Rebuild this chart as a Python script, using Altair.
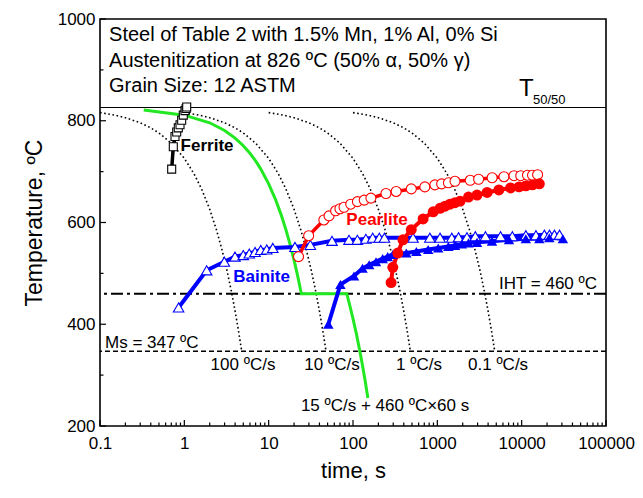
import altair as alt
import pandas as pd

FONT = "Liberation Sans"

# ---------------- data ----------------
# Ferrite start (open squares)
ferrite_t = [0.708, 0.740, 0.775, 0.812, 0.848, 0.889, 0.930, 0.972, 1.018, 1.050, 1.067]
ferrite_T = [705, 749, 769, 778, 786, 792, 801, 811, 820, 824, 827]

# Bainite start (open triangles)
bs_t = [0.855, 1.84, 2.98, 3.99, 5.0, 5.89, 6.89, 8.05, 9.48, 11.2, 20.5, 31.2, 56.4, 89.7,
        112.8, 142, 171, 205, 236, 515, 815, 1076, 1482, 1783, 2243, 2820, 3715, 5613, 7745,
        11200, 14760, 18570, 21330, 24450, 28100]
bs_T = [433, 506, 523, 533, 536, 539, 542, 546, 547, 550, 552, 556, 564, 566,
        566, 568, 570, 570, 570, 570, 570, 570, 570, 571, 571, 573, 573, 573, 573,
        575, 575, 576, 576, 576, 576]

# Bainite finish (filled triangles)
bf_t = [51, 70.9, 102.8, 129.7, 155.7, 187.5, 225, 258, 296.5, 428.6, 565, 778, 1024, 1352,
        1620, 1950, 2343, 2957, 4450, 7080, 11200, 16200, 21300, 30800]
bf_T = [400, 478, 495, 510, 517, 523, 529, 533, 537, 540, 543, 547, 550, 553,
        555, 558, 560, 561, 563, 566, 568, 568, 570, 568]

# Pearlite start (open circles)
ps_t = [22.6, 29.8, 45.1, 52, 62.2, 70, 78.2, 94, 112.8, 135.8, 163, 246, 325, 491, 711, 935,
        1124, 1352, 1620, 2455, 3086, 4465, 6166, 8110, 9750, 11720, 13450, 15450]
ps_T = [533, 574, 605, 613, 623, 627, 630, 636, 641, 644, 648, 657, 661, 666, 670, 674,
        676, 678, 681, 683, 685, 688, 690, 692, 692, 693, 693, 694]

# Pearlite finish (filled circles)
pf_t = [283, 296.5, 340, 391, 491, 678, 893, 1076, 1234, 1414, 1620, 1863, 2343, 2957, 3893,
        5370, 7390, 9310, 11200, 13450, 16200]
pf_T = [482, 512, 540, 566, 586, 607, 621, 628, 632, 636, 639, 642, 650, 654, 659,
        664, 668, 670, 672, 674, 676]

# Thermal path: 15 C/s + 460 C x 60 s
path_t = [0.33, 1, 2, 3, 4, 5, 6, 7, 8, 10, 12, 14, 16, 18, 20, 22, 24.4, 84.4, 90, 100,
          110, 120, 130, 140, 150]
path_T = [821, 811, 796, 781, 766, 751, 736, 721, 706, 676, 646, 616, 586, 556, 526, 496,
          460, 460, 442, 411, 380, 349, 318, 287, 255]

# Constant-rate cooling curves (dotted)
cool_T = [816, 811, 806, 796, 786, 776, 756, 726, 696, 666, 626, 586, 546, 506, 466, 426, 386, 347]
c100_t = [0.1, 0.15, 0.2, 0.3, 0.4, 0.5, 0.7, 1.0, 1.3, 1.6, 2.0, 2.4, 2.8, 3.2, 3.6, 4.0, 4.4, 4.79]
c10_t = [1, 1.5, 2, 3, 4, 5, 7, 10, 13, 16, 20, 24, 28, 32, 36, 40, 44, 47.9]
c1_t = [10, 15, 20, 30, 40, 50, 70, 100, 130, 160, 200, 240, 280, 320, 360, 400, 440, 479]
c01_t = [100, 150, 200, 300, 400, 500, 700, 1000, 1300, 1600, 2000, 2400, 2800, 3200, 3600,
         4000, 4400, 4790]

T5050 = [826]
IHT = [460]
MS = [347]

# axis ticks
x_major = [0.1, 1, 10, 100, 1000, 10000, 100000]
x_minor = [0.2, 0.3, 0.4, 0.5, 0.6, 0.7, 0.8, 0.9,
           2, 3, 4, 5, 6, 7, 8, 9,
           20, 30, 40, 50, 60, 70, 80, 90,
           200, 300, 400, 500, 600, 700, 800, 900,
           2000, 3000, 4000, 5000, 6000, 7000, 8000, 9000,
           20000, 30000, 40000, 50000, 60000, 70000, 80000, 90000]
y_major = [200, 400, 600, 800, 1000]
y_minor = [300, 500, 700, 900]

# annotations (text, t, T, align, size, weight, color, baseline)
notes = [
    ("Steel of Table 2 with 1.5% Mn, 1% Al, 0% Si", 0.128, 968, "left", 20, "normal", "black", "middle"),
    ("Austenitization at 826 ºC (50% α, 50% γ)", 0.128, 918, "left", 20, "normal", "black", "middle"),
    ("Grain Size: 12 ASTM", 0.128, 868, "left", 20, "normal", "black", "middle"),
    ("T", 9303, 848, "left", 24, "normal", "black", "alphabetic"),
    ("50/50", 13630, 833, "left", 13, "normal", "black", "alphabetic"),
    ("Ferrite", 1.86, 750, "center", 17, "bold", "black", "middle"),
    ("Pearlite", 193, 605, "center", 17, "bold", "red", "middle"),
    ("Bainite", 8.24, 493, "center", 17, "bold", "blue", "middle"),
    ("IHT = 460 ºC", 78300, 480, "right", 17, "normal", "black", "middle"),
    ("Ms = 347 ºC", 0.1146, 363, "left", 17, "normal", "black", "middle"),
    ("100 ºC/s", 4.96, 320, "center", 17, "normal", "black", "middle"),
    ("10 ºC/s", 56.4, 320, "center", 17, "normal", "black", "middle"),
    ("1 ºC/s", 606, 320, "center", 17, "normal", "black", "middle"),
    ("0.1 ºC/s", 5250, 320, "center", 17, "normal", "black", "middle"),
    ("15 ºC/s + 460 ºC×60 s", 240, 239, "center", 17, "normal", "black", "middle"),
]

W, H = 506, 407

xs = alt.Scale(type="log", domain=[0.1, 100000], nice=False)
ys = alt.Scale(domain=[200, 1000], nice=False)

xaxis = alt.Axis(values=x_major, labelExpr="datum.value < 1 ? '0.1' : format(datum.value, 'd')",
                 tickSize=0, domain=False, grid=False, labelFontSize=17, labelPadding=9,
                 labelFont=FONT, labelColor="black", title="time, s", titleFont=FONT,
                 titleFontSize=22, titleFontWeight="normal", titlePadding=9, titleColor="black",
                 labelFlush=False)
yaxis = alt.Axis(values=y_major, format="d", tickSize=0, domain=False, grid=False,
                 labelFontSize=17, labelPadding=5, labelFont=FONT, labelColor="black",
                 title="Temperature, ºC", titleFont=FONT, titleFontSize=23,
                 titleFontWeight="normal", titlePadding=11, titleColor="black", labelFlush=False)


def df(t, T):
    return pd.DataFrame({"t": t, "T": T, "i": list(range(len(t)))})


def X():
    return alt.X("t:Q", scale=xs, axis=xaxis)


def Y():
    return alt.Y("T:Q", scale=ys, axis=yaxis)


xmaj = alt.Chart(pd.DataFrame({"t": x_major})).mark_rule(color="black", strokeWidth=1.2).encode(
    x=X(), y=alt.value(H), y2=alt.value(H - 6))
xmin = alt.Chart(pd.DataFrame({"t": x_minor})).mark_rule(color="black", strokeWidth=1.2).encode(
    x=X(), y=alt.value(H), y2=alt.value(H - 3.5))
ymaj = alt.Chart(pd.DataFrame({"T": y_major})).mark_rule(color="black", strokeWidth=1.2).encode(
    y=Y(), x=alt.value(0), x2=alt.value(6))
ymin = alt.Chart(pd.DataFrame({"T": y_minor})).mark_rule(color="black", strokeWidth=1.2).encode(
    y=Y(), x=alt.value(0), x2=alt.value(3.5))

layers = [xmaj, xmin, ymaj, ymin]

# horizontal reference lines
layers.append(alt.Chart(pd.DataFrame({"T": T5050})).mark_rule(color="black", strokeWidth=1.2).encode(y=Y()))
layers.append(alt.Chart(pd.DataFrame({"T": IHT})).mark_rule(
    color="black", strokeWidth=2, strokeDash=[12, 4, 3, 4]).encode(y=Y()))
layers.append(alt.Chart(pd.DataFrame({"T": MS})).mark_rule(
    color="black", strokeWidth=1.5, strokeDash=[5, 3]).encode(y=Y()))

# dotted cooling curves
for ct in (c100_t, c10_t, c1_t, c01_t):
    layers.append(alt.Chart(df(ct, cool_T)).mark_line(
        color="black", strokeWidth=1.6, strokeDash=[1.6, 2.6], clip=True).encode(
        x=X(), y=Y(), order="i:Q"))

# green thermal path
layers.append(alt.Chart(df(path_t, path_T)).mark_line(color="#22e822", strokeWidth=3, clip=True).encode(
    x=X(), y=Y(), order="i:Q"))

# transformation lines
layers.append(alt.Chart(df(ferrite_t, ferrite_T)).mark_line(color="black", strokeWidth=3.5).encode(
    x=X(), y=Y(), order="i:Q"))
layers.append(alt.Chart(df(bs_t, bs_T)).mark_line(color="blue", strokeWidth=4).encode(
    x=X(), y=Y(), order="i:Q"))
layers.append(alt.Chart(df(bf_t, bf_T)).mark_line(color="blue", strokeWidth=4).encode(
    x=X(), y=Y(), order="i:Q"))
layers.append(alt.Chart(df(ps_t, ps_T)).mark_line(color="red", strokeWidth=3.5).encode(
    x=X(), y=Y(), order="i:Q"))
layers.append(alt.Chart(df(pf_t, pf_T)).mark_line(color="red", strokeWidth=4).encode(
    x=X(), y=Y(), order="i:Q"))

# markers
layers.append(alt.Chart(df(ferrite_t, ferrite_T)).mark_point(
    shape="square", filled=True, fill="white", stroke="black", strokeWidth=1.1, size=64, opacity=1).encode(
    x=X(), y=Y()))
layers.append(alt.Chart(df(bs_t, bs_T)).mark_point(
    shape="triangle-up", filled=True, fill="white", stroke="blue", strokeWidth=1.1, size=110, opacity=1).encode(
    x=X(), y=Y()))
layers.append(alt.Chart(df(bf_t, bf_T)).mark_point(
    shape="triangle-up", filled=True, color="blue", size=110, opacity=1).encode(
    x=X(), y=Y()))
layers.append(alt.Chart(df(ps_t, ps_T)).mark_point(
    shape="circle", filled=True, fill="white", stroke="red", strokeWidth=1.1, size=100, opacity=1).encode(
    x=X(), y=Y()))
layers.append(alt.Chart(df(pf_t, pf_T)).mark_point(
    shape="circle", filled=True, color="red", size=120, opacity=1).encode(
    x=X(), y=Y()))

# text annotations
for txt, t, T, al, sz, wt, col, bl in notes:
    layers.append(alt.Chart(pd.DataFrame({"t": [t], "T": [T], "s": [txt]})).mark_text(
        align=al, baseline=bl, fontSize=sz, fontWeight=wt, color=col, font=FONT).encode(
        x=X(), y=Y(), text="s:N"))

chart = alt.layer(*layers).properties(
    width=W, height=H, autosize="none",
    padding={"left": 92, "top": 11, "right": 29, "bottom": 64},
    background="white",
).configure_view(stroke="black", strokeWidth=1.6)

chart.save("out.html", embed_options={"renderer": "svg", "actions": False})
